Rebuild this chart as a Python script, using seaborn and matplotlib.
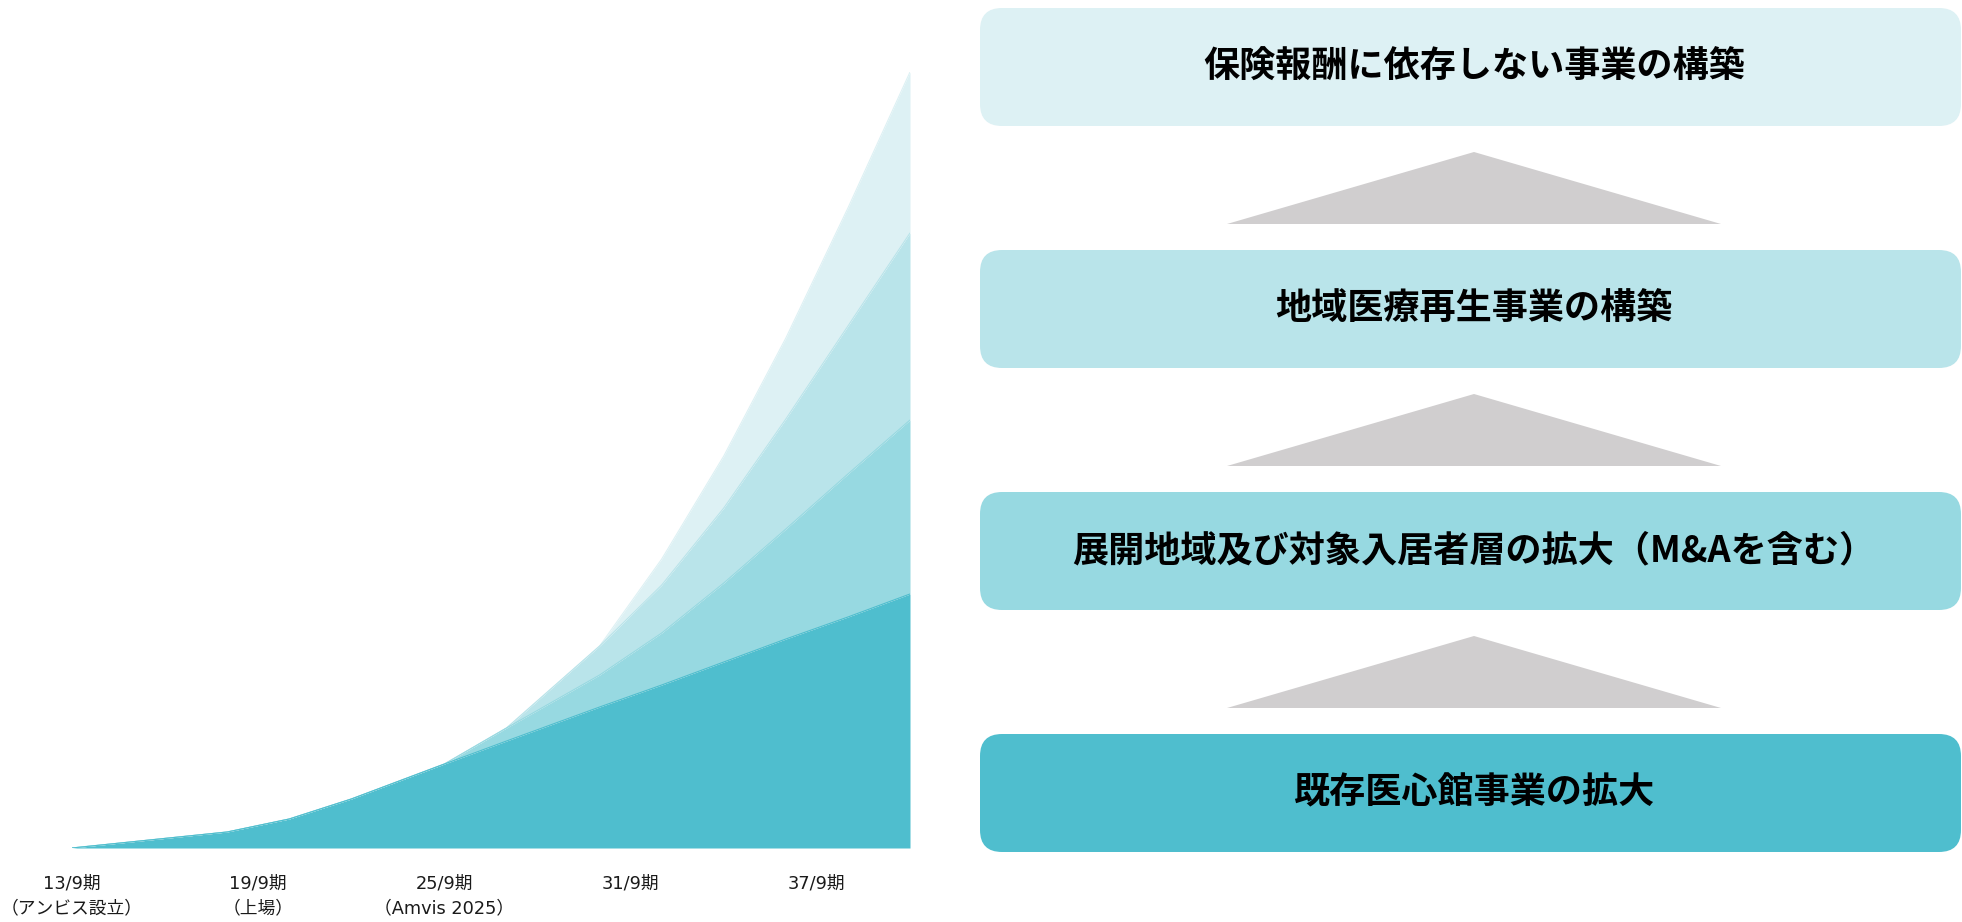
import matplotlib
matplotlib.use("Agg")
import matplotlib.pyplot as plt
from matplotlib.patches import FancyBboxPatch, Polygon
import numpy as np
import pandas as pd
import seaborn as sns

# Fiscal years (Sept. year-end) and stacked contribution of each business layer
years = [13, 18, 20, 22, 25, 27, 30, 32, 34, 36, 38, 40]
existing_hospice = [0, 16, 29, 49, 84, 107, 141, 163, 186, 209, 231, 254]
area_expansion = [0, 0, 0, 0, 0, 13, 32, 52, 79, 110, 143, 174]
regional_medicine = [0, 0, 0, 0, 0, 0, 29, 48, 75, 110, 148, 187]
non_insurance = [0, 0, 0, 0, 0, 0, 0, 26, 52, 81, 118, 161]

tick_years = [13, 19, 25, 31, 37]
tick_labels = [
    "13/9期\n（アンビス設立）",
    "19/9期\n（上場）",
    "25/9期\n（Amvis 2025）",
    "31/9期",
    "37/9期",
]

# Growth steps, listed from the top of the staircase down
step_labels = [
    "保険報酬に依存しない事業の構築",
    "地域医療再生事業の構築",
    "展開地域及び対象入居者層の拡大（M&Aを含む）",
    "既存医心館事業の拡大",
]

layer_colors = ["#4FBECE", "#97D9E1", "#B9E4EA", "#DDF1F4"]  # bottom -> top
step_colors = layer_colors[::-1]                            # top -> bottom
arrow_color = "#D0CECF"

sns.set_theme(style="white")
plt.rcParams["font.family"] = ["Noto Sans CJK JP", "DejaVu Sans"]

W, H = 1962, 922
fig = plt.figure(figsize=(W / 100, H / 100), dpi=100)

# ---- stacked area chart ----
ax_left, ax_right, ax_top, ax_bottom = 72, 910, 72, 848
ax = fig.add_axes([ax_left / W, (H - ax_bottom) / H,
                   (ax_right - ax_left) / W, (ax_bottom - ax_top) / H])

layers = [existing_hospice, area_expansion, regional_medicine, non_insurance]
ax.stackplot(years, *layers, colors=layer_colors, linewidth=0)

# crisp outline of each layer's upper edge, drawn top layer first
tops = np.cumsum(np.array(layers, dtype=float), axis=0)
for i in range(len(layers) - 1, -1, -1):
    df = pd.DataFrame({"year": years, "value": tops[i]})
    sns.lineplot(data=df, x="year", y="value", color=layer_colors[i],
                 linewidth=0.8, ax=ax, legend=False)

ax.set_xlim(years[0], years[-1])
ax.set_ylim(0, tops[-1].max())
ax.set_xticks(tick_years)
ax.set_xticklabels(tick_labels, fontsize=12.8, color="#1a1a1a",
                   linespacing=1.5, family=["DejaVu Sans", "Noto Sans CJK JP"])
ax.set_yticks([])
ax.set_xlabel("")
ax.set_ylabel("")
ax.tick_params(axis="x", length=0, pad=19)
for lbl in ax.get_xticklabels():
    lbl.set_verticalalignment("top")
sns.despine(ax=ax, left=True, bottom=True)
ax.patch.set_alpha(0)

# ---- staircase of growth steps ----
ov = fig.add_axes([0, 0, 1, 1])
ov.set_xlim(0, W)
ov.set_ylim(H, 0)
ov.axis("off")
ov.patch.set_alpha(0)

box_x0, box_x1 = 980, 1961
box_top0, box_h, step = 8, 118, 242
text_cx = 1474
tri_half, tri_h, tri_gap = 247, 72, 26

for i, (label, color) in enumerate(zip(step_labels, step_colors)):
    top = box_top0 + i * step
    ov.add_patch(FancyBboxPatch((box_x0, top), box_x1 - box_x0, box_h,
                                boxstyle="round,pad=0,rounding_size=22",
                                facecolor=color, edgecolor="none"))
    ov.text(text_cx, top + box_h / 2, label, ha="center", va="center",
            fontsize=26, fontweight="bold", color="#000000")
    if i < len(step_labels) - 1:
        apex = top + box_h + tri_gap
        base = apex + tri_h
        ov.add_patch(Polygon([(text_cx - tri_half, base), (text_cx, apex),
                              (text_cx + tri_half, base)],
                             closed=True, facecolor=arrow_color,
                             edgecolor="none"))

fig.savefig("out.png", dpi=100, facecolor="white")
